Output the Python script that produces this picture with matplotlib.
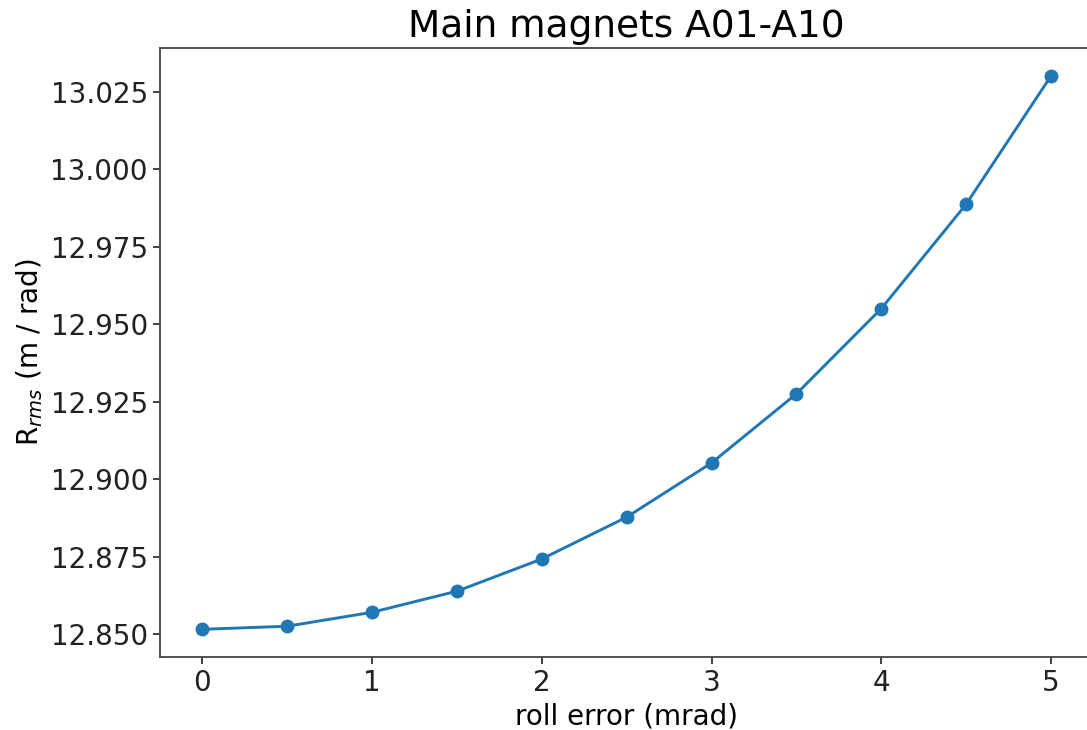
import numpy as np
import matplotlib.pyplot as plt

roll_error = [0, 0.5, 1, 1.5, 2, 2.5, 3, 3.5, 4, 4.5, 5]
r_rms = [12.8516, 12.8526, 12.8571, 12.8639, 12.8743, 12.8878,
         12.9053, 12.9276, 12.9551, 12.9888, 13.0302]

fig = plt.figure(figsize=(10.87, 7.30), dpi=100)
ax = fig.add_axes([0.147, 0.1, 0.859, 0.834])

ax.plot(roll_error, r_rms, marker="o", color="#1f77b4", linewidth=2.1, markersize=9)
ax.set_title("Main magnets A01-A10", fontsize=27, pad=8)
ax.set_xlabel("roll error (mrad)", fontsize=20, labelpad=4)
ax.set_ylabel("R$_{rms}$ (m / rad)", fontsize=20)
ax.tick_params(labelsize=20, length=5, width=1.2, colors="#222222")
ax.yaxis.set_major_formatter(plt.FormatStrFormatter("%.3f"))
for s in ax.spines.values():
    s.set_linewidth(1.3)
    s.set_color("#444444")
ax.spines["right"].set_visible(False)

fig.savefig("out.png", dpi=100)
